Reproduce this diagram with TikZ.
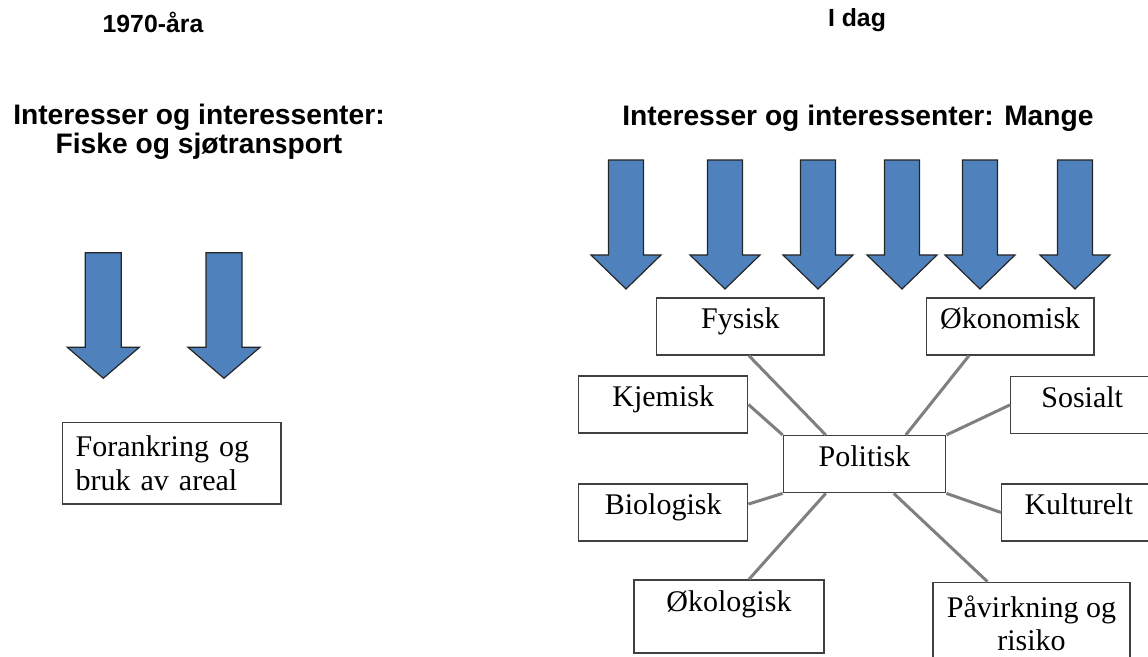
\documentclass[tikz,border=0pt]{standalone}
\usepackage{fontspec}
\setmainfont{Liberation Serif}
\newfontfamily\headfont{Liberation Sans}
\definecolor{arrowblue}{HTML}{4F81BD}
\definecolor{linkgray}{HTML}{7F7F7F}
\definecolor{boxline}{HTML}{404040}

\begin{document}
\begin{tikzpicture}[
                  x=0.5pt, y=-0.5pt,
                  title/.style={font=\headfont\bfseries\fontsize{12.4}{14}\selectfont},
                  bigtitle/.style={font=\headfont\bfseries\fontsize{14.1}{14.7}\selectfont, align=center},
                  frame/.style={draw=boxline, line width=0.7pt, fill=white, inner sep=0pt, anchor=north west, font=\fontsize{15}{16.8}\selectfont},
                  box/.style={frame, text height=15.5pt, text depth=13pt},
                  link/.style={draw=linkgray, line width=1.5pt},
                  fatarrow/.style={draw=black!85, line width=0.6pt, fill=arrowblue, line join=miter}
            ]
            \useasboundingbox (0,0) rectangle (1148,657);
            \clip (0,0) rectangle (1148,657);

            % Titles
            \node [title, anchor=base] (then) at (153,33) {1970-åra};
            \node [title, anchor=base] (now) at (857,27) {I dag};
            \node [bigtitle] (oldint) at (199,132) {Interesser og interessenter:\\Fiske og sjøtransport};
            \node [bigtitle, anchor=base] (newint) at (858,126) {Interesser og interessenter: Mange};

            % Arrows
            \foreach \x in {103.3,224}
              \draw [fatarrow] (\x-18,252.7) -- (\x+18,252.7) -- (\x+18,347.3) -- (\x+36,347.3) -- (\x,378.3) -- (\x-36,347.3) -- (\x-18,347.3) -- cycle;
            \foreach \x in {626,725,818,902,980,1075}
              \draw [fatarrow] (\x-17.5,160) -- (\x+17.5,160) -- (\x+17.5,255) -- (\x+35,255) -- (\x,289) -- (\x-35,255) -- (\x-17.5,255) -- cycle;

            % Nodes
            \node [frame, text width=96pt, inner xsep=6.65pt, minimum height=40.8pt, align=left] (forankring) at (61.7,421.7) {Forankring og\\bruk av areal};
            \node [box, minimum width=83.65pt] (fysisk) at (656,297.3) {Fysisk};
            \node [box, minimum width=83.8pt] (okonomisk) at (925.7,297.3) {Økonomisk};
            \node [box, minimum width=84.5pt] (kjemisk) at (578,375.3) {Kjemisk};
            \node [box, minimum width=71.5pt] (sosialt) at (1010,375.7) {Sosialt};
            \node [box, minimum width=81.15pt] (politisk) at (782.7,435) {Politisk};
            \node [box, minimum width=84.5pt] (biologisk) at (578,483.3) {Biologisk};
            \node [box, minimum width=77pt] (kulturelt) at (1001,483.3) {Kulturelt};
            \node [box, minimum width=95pt, text height=16pt, text depth=20.5pt] (okologisk) at (633.3,579.3) {Økologisk};
            \node [frame, minimum width=98.5pt, minimum height=41pt, align=center] (pavirkning) at (932.3,581.7) {Påvirkning og\\risiko};

            % Edges
            \path [link] ([xshift=4.3pt]fysisk.south) -- ([xshift=-19.4pt]politisk.north);
            \path [link] (kjemisk.east) -- (politisk.north west);
            \path [link] ([yshift=4.2pt]biologisk.east) -- (politisk.south west);
            \path [link] ([xshift=10pt]okologisk.north) -- ([xshift=-19.4pt]politisk.south);
            \path [link] ([xshift=-20.6pt]okonomisk.south) -- ([xshift=20.6pt]politisk.north);
            \path [link] (sosialt.west) -- (politisk.north east);
            \path [link] (kulturelt.west) -- (politisk.south east);
            \path [link] ([xshift=-22pt]pavirkning.north) -- ([xshift=14.6pt]politisk.south);
      \end{tikzpicture}
\end{document}
